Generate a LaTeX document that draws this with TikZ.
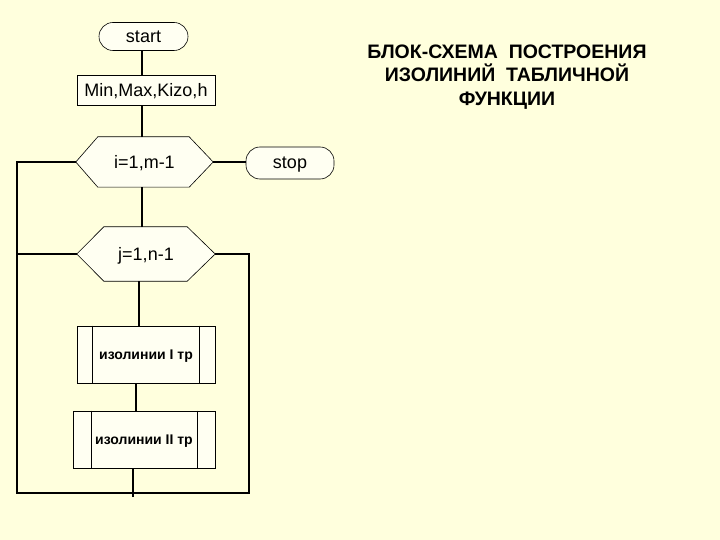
\documentclass[tikz,border=0pt]{standalone}
\usepackage{fontspec}
\setmainfont{Liberation Sans}
\usetikzlibrary{calc}
\definecolor{bg}{HTML}{FFFFDD}
\definecolor{boxfill}{HTML}{FFFFF2}
\begin{document}
\begin{tikzpicture}[x=1pt,y=-1pt,
  conn/.style={line width=1.5pt},
  term/.style={draw,line width=0.6pt,fill=boxfill,rounded corners=14pt,inner sep=0pt,text depth=0pt,font=\fontsize{18}{20}\selectfont},
  iobox/.style={draw,line width=0.6pt,fill=boxfill,inner sep=0pt,text depth=0pt,font=\fontsize{18}{20}\selectfont},
  hexlabel/.style={inner sep=0pt,text depth=0pt,font=\fontsize{18}{20}\selectfont},
  hexshape/.style={draw,line width=0.6pt,fill=boxfill},
  procbox/.style={draw,line width=0.6pt,fill=boxfill,inner sep=0pt,text depth=0pt,font=\bfseries\fontsize{14}{16}\selectfont},
  title/.style={align=center,font=\bfseries\fontsize{19.5}{23.5}\selectfont}
]
\useasboundingbox[fill=bg] (0,0) rectangle (720,540);

% nodes
\node[term,minimum width=89pt,minimum height=28pt] (start) at (143.5,36.5) {start};
\node[iobox,minimum width=138pt,minimum height=30pt] (min) at (146,90) {Min,Max,Kizo,h};
\node[hexlabel,minimum width=137pt,minimum height=50pt] (i) at (144.5,162) {};
\node[term,minimum width=88pt,minimum height=32pt] (stop) at (290,163) {stop};
\node[hexlabel,minimum width=138pt,minimum height=54pt] (j) at (146,254) {};
\node[procbox,minimum width=138pt,minimum height=57pt] (b1) at (146,354.5) {изолинии I тр};
\node[procbox,minimum width=142pt,minimum height=57pt] (b2) at (144,439.5) {изолинии II тр};

% hexagons
\draw[hexshape] (i.west) -- ($(i.north west)+(22,0)$) -- ($(i.north east)+(-24,0)$) -- (i.east)
  -- ($(i.south east)+(-24,0)$) -- ($(i.south west)+(22,0)$) -- cycle;
\node[hexlabel] at (i.center) {i=1,m-1};
\draw[hexshape] (j.west) -- ($(j.north west)+(27,0)$) -- ($(j.north east)+(-28,0)$) -- (j.east)
  -- ($(j.south east)+(-28,0)$) -- ($(j.south west)+(27,0)$) -- cycle;
\node[hexlabel] at (j.center) {j=1,n-1};

% inner lines of predefined process boxes
\draw[line width=0.6pt] ($(b1.north west)+(16,0)$) -- ($(b1.south west)+(16,0)$);
\draw[line width=0.6pt] ($(b1.north east)+(-16,0)$) -- ($(b1.south east)+(-16,0)$);
\draw[line width=0.6pt] ($(b2.north west)+(19,0)$) -- ($(b2.south west)+(19,0)$);
\draw[line width=0.6pt] ($(b2.north east)+(-18,0)$) -- ($(b2.south east)+(-18,0)$);

% title
\node[title] (t) at (507,77) {БЛОК-СХЕМА\ \ ПОСТРОЕНИЯ\\ИЗОЛИНИЙ\ \ ТАБЛИЧНОЙ\\ФУНКЦИИ};

% coordinates
\coordinate (lb) at (17,493);
\coordinate (rb) at (249,493);
\coordinate (end) at (133,497);

% connectors
\draw[conn] ([xshift=-1.5pt]start.south) -- ([xshift=-1.5pt]start.south |- min.north);
\draw[conn] ([xshift=-1.5pt]start.south |- min.south) -- ([xshift=-1.5pt]start.south |- i.north);
\draw[conn] ([xshift=-1.5pt]start.south |- i.south) -- ([xshift=-1.5pt]start.south |- j.north);
\draw[conn] (i.east) -- (i.east -| stop.west);
\draw[conn] ([xshift=-7pt]j.south) -- ([xshift=-7pt]j.south |- b1.north);
\draw[conn] ([xshift=-10pt]b1.south) -- ([xshift=-10pt]b1.south |- b2.north);
\draw[conn] (b2.south -| end) -- (end);
\draw[conn] (i.west) -| (lb) -- (rb) |- (j.east);
\draw[conn] (j.west) -- (j.west -| lb);
\end{tikzpicture}
\end{document}
